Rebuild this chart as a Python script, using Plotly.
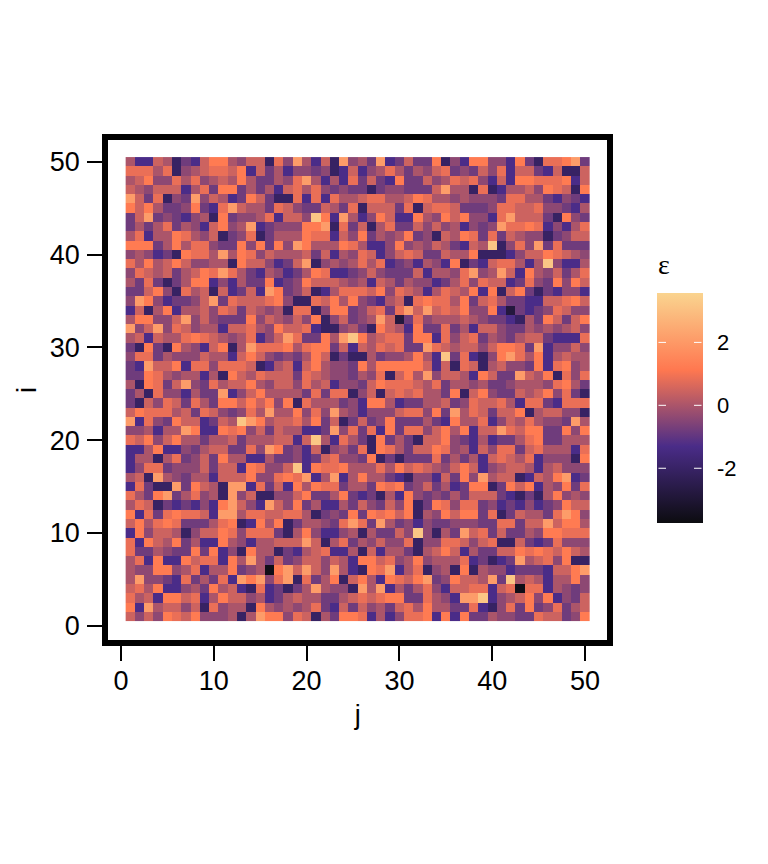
import plotly.graph_objects as go

# Cell levels estimated by eye from the reference; each row is left half (j=1..25) + right half (j=26..50)
rows_top_left = """52265 13268 85466 17495 26194
77757 14567 76826 35244 34126
56844 75745 65853 35479 52527
65466 62573 88353 52675 74343
96371 43946 52386 31172 72755
86853 34832 79655 37643 36537
36934 32451 83445 72664 A8295
35357 35426 84592 34448 89173
57255 87546 13471 35558 77264
88835 85774 33848 38498 55587
45423 18775 95874 65556 36254
75856 86445 51866 42369 14545
47656 35687 97532 54235 87223
53731 35882 42533 82348 66654
33684 17561 62362 98346 12577
49842 33469 37666 78411 76858
26158 25564 76365 45177 14883
58844 69464 33384 65464 81463
94694 76455 26675 48667 21145
56265 57876 54572 46973 3859A
31831 85426 81597 77857 88362
47735 44465 52686 43435 86131
32966 82774 77761 25626 85443
33875 45525 18657 66637 65443
51873 69437 56685 46647 56244""".splitlines()
rows_bottom_left = """35174 42533 92468 55553 73771
31647 63753 88686 84817 55534
68777 56376 43475 95584 74954
92743 86623 65A98 56675 83613
44525 59822 87846 36552 23947
76846 85535 56355 56626 A5275
22582 24356 63374 98342 61453
25515 73463 85522 53342 36744
24773 44463 66287 446A2 87785
56195 43552 66684 47879 25925
27311 93865 19927 36285 87735
75389 35745 19461 14468 33583
57613 23242 89642 96483 52253
82737 87762 99577 66775 13438
68578 73335 78128 58135 54379
28466 51466 87477 73158 42245
72865 83522 85425 56669 61573
73354 33838 24185 51325 67225
57282 28677 28595 36346 64652
54488 45725 58345 08969 64952
59443 27353 72989 47917 35816
67582 24538 56217 23135 95441
75628 86725 86645 23565 53356
82956 64617 45518 54545 73263
64648 76844 45159 88476 15388""".splitlines()
rows_top_right = """53923 63381 42884 42831 77893
24575 35467 34364 72663 26116
36328 33645 76742 62887 77826
31344 33369 55171 25564 87618
67755 68755 45444 37755 32432
16663 71677 63334 77667 44325
24862 28548 68442 79666 31843
61573 36464 52434 97787 24257
83545 83416 58737 36544 13466
52248 45465 3265A 14749 37333
76246 76336 55811 12466 87654
75723 42542 81326 77525 A4225
46433 36255 47945 96285 46357
52653 54423 57476 62374 38486
76847 65257 65828 16831 32442
43256 17877 58367 53322 66786
46737 96967 68448 2B323 47644
4596B 37455 56543 32153 86368
31865 28337 35266 43354 54564
85677 38827 46735 43566 32227
65767 33976 56646 88739 24464
15344 5852A 37214 89758 25655
85888 88626 17615 64438 27845
54716 85946 65286 33965 81747
36877 76573 55453 34555 47853""".splitlines()
rows_bottom_right = """46167 67553 81684 33656 84731
28852 33556 34766 75277 32777
24446 77483 95763 66815 66441
63483 33532 85572 46575 44395
37283 77468 58266 97688 33848
31835 31668 43252 33578 33555
71875 36687 45264 77367 55527
38131 33373 53526 76572 44418
55758 67654 68624 56652 56444
85532 14426 38495 66126 58923
53878 34635 23881 38682 54837
23152 84343 53666 32131 58454
64364 81387 47734 23242 34866
38786 81548 68837 13655 37984
73953 42433 44433 77366 96885
15336 4A415 39673 63354 88777
54644 71447 76467 11632 37444
16255 31568 62533 66878 76865
88674 58455 57231 23956 74811
18792 57145 18154 42333 26689
85287 68934 86659 3A565 25584
95925 35742 66772 67077 25434
76788 33754 299A2 45684 82436
64536 75855 33721 47383 47356
72524 77828 28335 44337 66348""".splitlines()

level_values = {"0": -3.6, "B": -2.8, "1": -2.05, "2": -1.3, "3": -0.8, "4": -0.4, "5": 0.0,
                "6": 0.45, "7": 0.85, "8": 1.2, "9": 2.1, "A": 3.2}
tick_vals = [0, 10, 20, 30, 40, 50]
legend_ticks = [-2, 0, 2]
z_low, z_high = -3.74, 3.57
scale_colors = ["#0c0c10", "#4a2c88", "#ff7850", "#fad48f"]

left = rows_top_left + rows_bottom_left
right = rows_top_right + rows_bottom_right
rows_desc = [(a + b).replace(" ", "") for a, b in zip(left, right)]
for n, r in enumerate(rows_desc):
    assert len(r) == 50, (n, len(r))
z = [[level_values[c] for c in r] for r in reversed(rows_desc)]
cells = list(range(1, 51))

W, H = 768, 864
BAR_TOP, BAR_BOTTOM, BAR_LEFT, BAR_RIGHT = 293, 523, 657, 703


def legend_y(t):
    return 1 - (BAR_TOP + (z_high - t) / (z_high - z_low) * (BAR_BOTTOM - BAR_TOP)) / H


fig = go.Figure(go.Heatmap(
    z=z, x=cells, y=cells, zmin=z_low, zmax=z_high,
    colorscale=[[i / 3, c] for i, c in enumerate(scale_colors)],
    colorbar=dict(
        thickness=BAR_RIGHT - BAR_LEFT, thicknessmode="pixels",
        len=BAR_BOTTOM - BAR_TOP, lenmode="pixels",
        x=BAR_LEFT / W, xanchor="left", xpad=0, ypad=0,
        y=1 - (BAR_TOP + BAR_BOTTOM) / 2 / H, yanchor="middle",
        outlinewidth=0, borderwidth=0,
        tickmode="array", tickvals=legend_ticks, ticktext=["-2", "0", "2"],
        ticks="outside", ticklen=10, tickwidth=1, tickcolor="white",
        tickfont=dict(family="Liberation Sans", size=22, color="black"),
    ),
))

axis_common = dict(showgrid=False, zeroline=False, showline=True, mirror=True, linewidth=6,
                   linecolor="black", ticks="outside", ticklen=15, tickwidth=2, tickcolor="black",
                   tickmode="array", tickvals=tick_vals,
                   tickfont=dict(family="Liberation Sans", size=27, color="black"))

annotations = [dict(text="ε", xref="paper", yref="paper", x=656 / W, y=1 - 264 / H, xanchor="left",
                    yanchor="middle", showarrow=False,
                    font=dict(family="Liberation Serif", size=28, color="black"))]
# white ticks across both edges of the colour bar
for t in legend_ticks:
    for edge, reach in ((BAR_LEFT, 9), (BAR_RIGHT, -9)):
        annotations.append(dict(text="", xref="paper", yref="paper", x=(edge + reach) / W, y=legend_y(t),
                                axref="pixel", ayref="pixel", ax=-reach, ay=0, showarrow=True,
                                arrowhead=0, arrowwidth=1, arrowcolor="white", standoff=0, startstandoff=0))

fig.update_layout(
    width=W, height=H, margin=dict(l=0, r=0, t=0, b=0),
    paper_bgcolor="white", plot_bgcolor="white",
    xaxis=dict(domain=[108.3 / W, 607 / W], range=[-1.37, 52.37], ticklabelstandoff=-3,
               title=dict(text="j", font=dict(family="Liberation Sans", size=27, color="black"), standoff=12),
               **axis_common),
    yaxis=dict(domain=[1 - 640 / H, 1 - 140 / H], range=[-1.54, 52.34], ticklabelstandoff=2,
               title=dict(text="i", font=dict(family="Liberation Sans", size=27, color="black"), standoff=7),
               **axis_common),
    annotations=annotations,
)
fig.write_html("out.html", config={"displayModeBar": False}, post_script="document.body.style.margin='0';")
